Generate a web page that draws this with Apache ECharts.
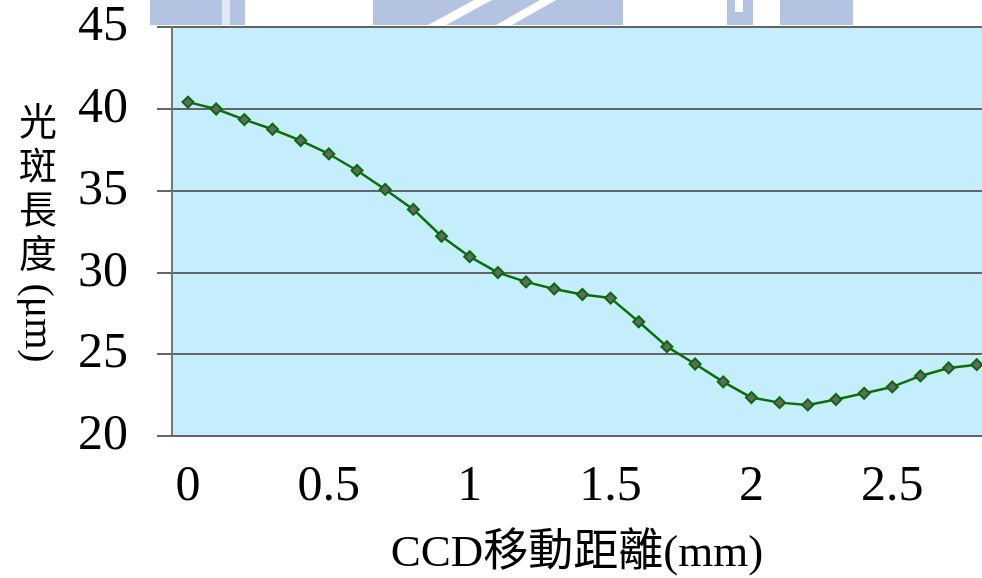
<!DOCTYPE html>
<html>
<head>
<meta charset="utf-8">
<script src="https://cdn.jsdelivr.net/npm/echarts@6/dist/echarts.min.js"></script>
<style>
html,body{margin:0;padding:0;background:#fff;}
#c{width:982px;height:578px;}
</style>
</head>
<body>
<div id="c"></div>
<script>
// CCD moving distance (mm)
var distances = [0,0.1,0.2,0.3,0.4,0.5,0.6,0.7,0.8,0.9,1.0,1.1,1.2,1.3,1.4,1.5,1.6,1.7,1.8,1.9,2.0,2.1,2.2,2.3,2.4,2.5,2.6,2.7,2.8];
// spot length (μm)
var spotLengths = [40.41,39.99,39.34,38.75,38.06,37.24,36.23,35.07,33.85,32.21,30.96,29.99,29.42,28.99,28.65,28.43,26.98,25.46,24.40,23.31,22.35,22.04,21.90,22.23,22.61,23.00,23.67,24.16,24.36];
var xTickLabels = [0,0.5,1,1.5,2,2.5];
var yTicks = [20,25,30,35,40,45];

var seriesData = distances.map(function(d,i){ return [d, spotLengths[i]]; });

var chart = echarts.init(document.getElementById('c'), null, {renderer:'canvas'});
var serif = '"Liberation Serif","Times New Roman",serif';
var wm = '#b5c3e2';

chart.setOption({
  animation:false,
  backgroundColor:'#ffffff',
  grid:{left:172, top:27, right:0, bottom:142, show:true, backgroundColor:'#c5eefc', borderWidth:0},
  xAxis:{
    type:'value', min:-0.0568, max:2.8185,
    axisLine:{show:true, onZero:false, lineStyle:{color:'#666666', width:2}},
    axisTick:{show:false},
    splitLine:{show:false},
    axisLabel:{customValues:xTickLabels, fontFamily:serif, fontSize:50, color:'#000', margin:26,
      formatter:function(v){ return String(v); }}
  },
  yAxis:{
    type:'value', min:yTicks[0], max:yTicks[yTicks.length-1], interval:5,
    axisLine:{show:true, onZero:false, lineStyle:{color:'#777777', width:2}},
    axisTick:{show:true, inside:false, length:15, lineStyle:{color:'#666666', width:2}},
    splitLine:{show:true, lineStyle:{color:'#646464', width:2}},
    axisLabel:{fontFamily:serif, fontSize:50, color:'#000', margin:44}
  },
  series:[{
    type:'line',
    data:seriesData,
    symbol:'diamond',
    symbolSize:11,
    lineStyle:{color:'#0b6e0b', width:2.5},
    itemStyle:{color:'#666666', borderColor:'#0a6a0a', borderWidth:2},
    z:5
  }],
  graphic:[
    {type:'rect', shape:{x:150,y:0,width:95,height:25}, style:{fill:wm}, z:-1},
    {type:'rect', shape:{x:222,y:0,width:8,height:25}, style:{fill:'#e2e8f4'}, z:0},
    {type:'rect', shape:{x:373,y:0,width:227,height:25}, style:{fill:wm}, z:-1},
    {type:'polygon', shape:{points:[[428,25],[446,25],[492,0],[474,0]]}, style:{fill:'#fff'}, z:0},
    {type:'polygon', shape:{points:[[496,25],[512,25],[556,0],[540,0]]}, style:{fill:'#fff'}, z:0},
    {type:'rect', shape:{x:600,y:0,width:23,height:25}, style:{fill:wm}, z:-1},
    {type:'rect', shape:{x:727,y:0,width:26,height:25}, style:{fill:wm}, z:-1},
    {type:'rect', shape:{x:735,y:0,width:8,height:12}, style:{fill:'#fff'}, z:0},
    {type:'rect', shape:{x:780,y:0,width:73,height:25}, style:{fill:wm}, z:-1},
    {type:'text', x:38, y:99,
      style:{text:'光\n斑\n長\n度', fontFamily:'"Noto Sans CJK TC",sans-serif', fontSize:38, lineHeight:44,
        fill:'#000', align:'center', verticalAlign:'top'}},
    {type:'text', x:36, y:323, rotation:-Math.PI/2,
      style:{text:'(μm)', fontFamily:serif, fontSize:40, fill:'#000', align:'center', verticalAlign:'middle'}},
    {type:'text', x:577, y:554,
      style:{text:'CCD移動距離(mm)', fontFamily:'"Liberation Serif","Noto Sans CJK TC",serif', fontSize:45,
        fill:'#000', align:'center', verticalAlign:'middle'}}
  ]
});
</script>
</body>
</html>
